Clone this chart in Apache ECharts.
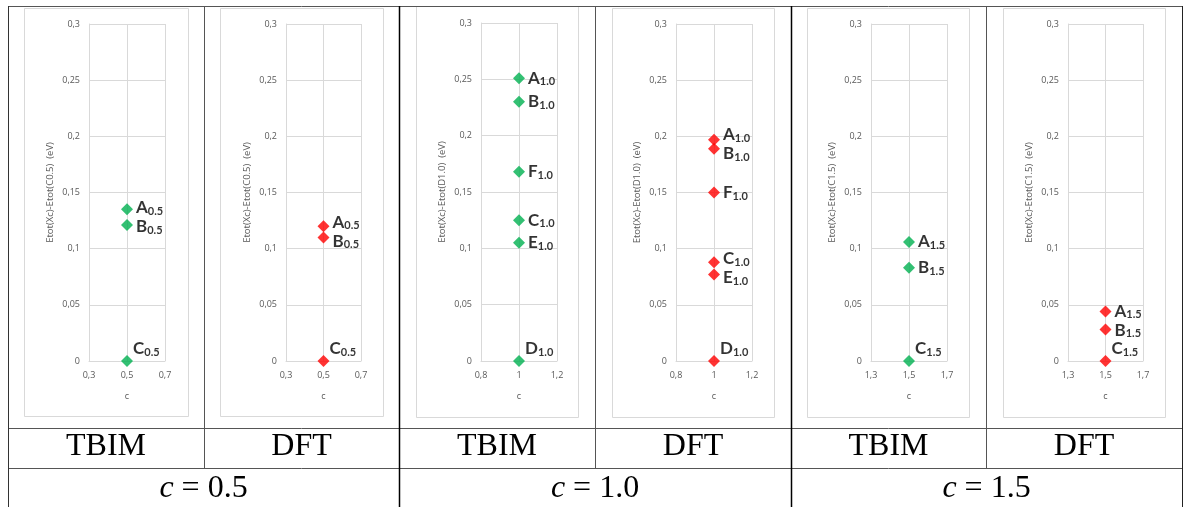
<!DOCTYPE html>
<html>
<head>
<meta charset="utf-8">
<script src="https://cdn.jsdelivr.net/npm/echarts@6/dist/echarts.min.js"></script>
<style>
html,body{margin:0;padding:0;background:#fff;}
#chart{width:1186px;height:507px;}
</style>
</head>
<body>
<div id="chart"></div>
<script>
// ---- data ----
const names05 = ['A', 'B', 'C'];
const tbim05 = [0.135, 0.121, 0];
const dft05 = [0.120, 0.110, 0];

const names10 = ['A', 'B', 'F', 'C', 'E', 'D'];
const tbim10 = [0.251, 0.230, 0.168, 0.125, 0.105, 0];
const dft10 = [0.197, 0.189, 0.150, 0.088, 0.077, 0];

const names15 = ['A', 'B', 'C'];
const tbim15 = [0.106, 0.083, 0];
const dft15 = [0.044, 0.028, 0];

const cValues = [0.5, 1.0, 1.5];
const cSubs = ['0.5', '1.0', '1.5'];
const xRanges = [[0.3, 0.7], [0.8, 1.2], [1.3, 1.7]];
const yNames = ['Etot(Xc)-Etot(C0.5)  (eV)', 'Etot(Xc)-Etot(D1.0)  (eV)', 'Etot(Xc)-Etot(C1.5)  (eV)'];
const methodLabels = ['TBIM', 'DFT'];
const groupLabels = ['0.5', '1.0', '1.5'];
const yTicks = [0, 0.3, 0.05];

// ---- panels ----
const panels = [
  {names: names05, vals: tbim05, g: 0, m: 0},
  {names: names05, vals: dft05, g: 0, m: 1},
  {names: names10, vals: tbim10, g: 1, m: 0},
  {names: names10, vals: dft10, g: 1, m: 1},
  {names: names15, vals: tbim15, g: 2, m: 0},
  {names: names15, vals: dft15, g: 2, m: 1}
];

// layout (pixels)
const gridBoxes = [
  [89, 24, 76, 337], [286, 24, 75, 337], [481, 23, 76, 338],
  [676, 24, 76, 337], [871, 24, 76, 337], [1068, 24, 75, 337]
];
const chartBoxes = [
  [24, 8, 164, 408], [220, 8, 163, 408], [416, 6, 162, 411],
  [612, 8, 162, 409], [807, 8, 162, 409], [1003, 8, 162, 409]
];
const colors = ['#00B050', '#FF0000'];
const axisGray = '#595959';
const gridGray = '#d9d9d9';
const MIN_SEP = 19; // minimal vertical label separation in px

function fmt(v) {
  const r = Math.round(v * 100) / 100;
  return String(r).replace('.', ',');
}

// vertical label nudges so that close labels do not collide
function labelShifts(vals, pxPerUnit) {
  const dy = vals.map(() => 0);
  for (let k = 0; k < vals.length - 1; k++) {
    const gap = (vals[k] - vals[k + 1]) * pxPerUnit;
    if (vals[k + 1] !== 0 && gap < MIN_SEP) {
      const need = (MIN_SEP - gap) / 2;
      dy[k] -= need;
      dy[k + 1] += need;
    }
  }
  return dy;
}

const grids = [], xAxes = [], yAxes = [], series = [], graphics = [];

// chart-area boxes
chartBoxes.forEach(b => {
  graphics.push({
    type: 'rect', silent: true, z: -10,
    shape: {x: b[0] + 0.5, y: b[1] + 0.5, width: b[2], height: b[3]},
    style: {fill: '#fff', stroke: gridGray, lineWidth: 1}
  });
});

panels.forEach((p, i) => {
  const gb = gridBoxes[i];
  grids.push({left: gb[0], top: gb[1], width: gb[2], height: gb[3], containLabel: false, show: false});
  const xr = xRanges[p.g];
  xAxes.push({
    type: 'value', gridIndex: i, min: xr[0], max: xr[1], interval: 0.2,
    name: 'c', nameLocation: 'middle', nameGap: 31,
    nameTextStyle: {color: axisGray, fontSize: 9, fontFamily: 'Open Sans'},
    axisLine: {show: true, lineStyle: {color: gridGray, width: 1}},
    axisTick: {show: false},
    splitLine: {show: true, lineStyle: {color: gridGray, width: 1}},
    axisLabel: {color: axisGray, fontSize: 9, fontFamily: 'Open Sans', margin: 10,
      showMinLabel: true, showMaxLabel: true, formatter: v => fmt(v)}
  });
  yAxes.push({
    type: 'value', gridIndex: i, min: yTicks[0], max: yTicks[1], interval: yTicks[2],
    name: yNames[p.g], nameLocation: 'middle', nameGap: 34,
    nameTextStyle: {color: axisGray, fontSize: 9.5, fontFamily: 'Open Sans'},
    axisLine: {show: true, lineStyle: {color: gridGray, width: 1}},
    axisTick: {show: false},
    splitLine: {show: true, lineStyle: {color: gridGray, width: 1}},
    axisLabel: {color: axisGray, fontSize: 9, fontFamily: 'Open Sans', margin: 9, formatter: v => fmt(v)}
  });
  const sub = cSubs[p.g];
  const shifts = labelShifts(p.vals, gb[3] / (yTicks[1] - yTicks[0]));
  series.push({
    type: 'scatter', xAxisIndex: i, yAxisIndex: i,
    symbol: 'diamond', symbolSize: [12, 12],
    itemStyle: {color: colors[p.m]},
    data: p.vals.map((v, k) => ({value: [cValues[p.g], v], name: p.names[k]})),
    label: {
      show: true, position: 'right', distance: 3,
      formatter: d => '{m|' + d.name + '}{s|' + sub + '}',
      rich: {
        m: {fontFamily: 'Lato', fontWeight: 'bold', fontSize: 17, color: '#000', lineHeight: 18, verticalAlign: 'middle'},
        s: {fontFamily: 'Lato', fontWeight: 'bold', fontSize: 11, color: '#000', lineHeight: 10, verticalAlign: 'bottom'}
      }
    },
    labelLayout: params => {
      const v = p.vals[params.dataIndex];
      if (v === 0) return {dx: -3, dy: -12};
      return {dy: shifts[params.dataIndex]};
    }
  });
});

// table lines
const tableTop = 6, row1 = 428, row2 = 468, tableBottom = 507;
const vx = [8, 204, 399, 595, 791, 986, 1182];
function line(x1, y1, x2, y2, color, w) {
  graphics.push({type: 'line', silent: true, z: 10,
    shape: {x1: x1, y1: y1, x2: x2, y2: y2},
    style: {stroke: color, lineWidth: w}});
}
line(vx[0], tableTop + 0.5, vx[6], tableTop + 0.5, '#555', 1);
line(vx[0], row1 + 0.5, vx[6], row1 + 0.5, '#555', 1);
line(vx[0], row2 + 0.5, vx[6], row2 + 0.5, '#555', 1);
line(vx[0] + 0.5, tableTop, vx[0] + 0.5, tableBottom, '#333', 1);
line(vx[6] + 0.5, tableTop, vx[6] + 0.5, tableBottom, '#222', 1);
[1, 3, 5].forEach(k => line(vx[k] + 0.5, tableTop, vx[k] + 0.5, row2, '#555', 1));
[2, 4].forEach(k => line(vx[k] + 0.5, tableTop, vx[k] + 0.5, tableBottom, '#000', 1.5));

// table texts
panels.forEach((p, i) => {
  graphics.push({type: 'text', silent: true, z: 11,
    x: (vx[i] + vx[i + 1]) / 2, y: 447,
    style: {text: methodLabels[p.m], fontFamily: 'Liberation Serif', fontSize: 32, fill: '#000',
      align: 'center', verticalAlign: 'middle'}});
});
groupLabels.forEach((g, k) => {
  graphics.push({type: 'text', silent: true, z: 11,
    x: (vx[2 * k] + vx[2 * k + 2]) / 2, y: 489,
    style: {text: '{i|c} = ' + g, fontFamily: 'Liberation Serif', fontSize: 32, fill: '#000',
      align: 'center', verticalAlign: 'middle',
      rich: {i: {fontFamily: 'Liberation Serif', fontStyle: 'italic', fontSize: 32, fill: '#000'}}}});
});

const chart = echarts.init(document.getElementById('chart'), null, {renderer: 'canvas'});
chart.setOption({
  animation: false,
  backgroundColor: '#fff',
  grid: grids,
  xAxis: xAxes,
  yAxis: yAxes,
  series: series,
  graphic: graphics
});
</script>
</body>
</html>
